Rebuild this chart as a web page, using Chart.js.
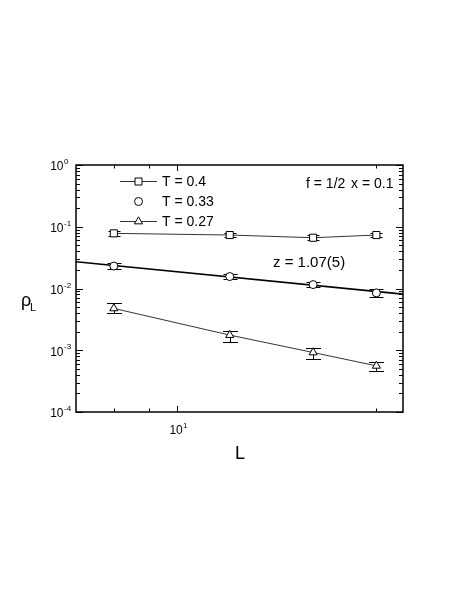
<!DOCTYPE html>
<html><head><meta charset="utf-8">
<script src="https://cdn.jsdelivr.net/npm/chart.js@4/dist/chart.umd.min.js"></script>
<style>html,body{margin:0;padding:0;background:#fff}canvas{display:block}</style>
</head><body>
<canvas id="c" width="463" height="606"></canvas>
<script>
// ---- data ----
const L = [6, 15.3, 30, 50];
const rhoT040 = [0.0782, 0.0734, 0.0664, 0.0734];
const loT040  = [0.0717, 0.0673, 0.0609, 0.0673];
const hiT040  = [0.0852, 0.0800, 0.0723, 0.0800];
const rhoT033 = [0.0231, 0.0156, 0.01157, 0.00849];
const loT033  = [0.0204, 0.01404, 0.01054, 0.00739];
const hiT033  = [0.0261, 0.0173, 0.0127, 0.00974];
const rhoT027 = [0.00476, 0.00176, 0.00092, 0.000559];
const loT027  = [0.00395, 0.00137, 0.000718, 0.000463];
const hiT027  = [0.00574, 0.00204, 0.00107, 0.000649];
const fitL   = [4.42, 62];
const fitRho = [0.0271, 0.0081];
const seriesLabels = ['T = 0.4', 'T = 0.33', 'T = 0.27'];
const xMajorTicks = [10];
const xMinorTicks = [6, 8, 50];
const xTickBase = ['10'];
const xTickExp = ['1'];
const yMajorTicks = [1, 0.1, 0.01, 0.001, 0.0001];
const yTickBase = ['10', '10', '10', '10', '10'];
const yTickExp = ['0', '-1', '-2', '-3', '-4'];
const xTitle = 'L';
const yTitle = 'ρ';
const yTitleSub = 'L';
const note1 = 'f = 1/2';
const note2 = 'x = 0.1';
const note3 = 'z = 1.07(5)';

const FONT = '"Liberation Sans", Arial, Helvetica, sans-serif';

function drawMarker(ctx, style, x, y) {
  ctx.save();
  ctx.fillStyle = '#fff'; ctx.strokeStyle = '#000'; ctx.lineWidth = 1;
  ctx.beginPath();
  if (style === 'rect') { ctx.rect(x - 3.5, y - 3.5, 7, 7); }
  else if (style === 'circle') { ctx.arc(x, y, 4, 0, Math.PI * 2); }
  else { const r = 4.7; ctx.moveTo(x, y - r); ctx.lineTo(x + r * 0.866, y + r * 0.5); ctx.lineTo(x - r * 0.866, y + r * 0.5); ctx.closePath(); }
  ctx.fill(); ctx.stroke();
  ctx.restore();
}

const decor = {
  id: 'decor',
  beforeDatasetsDraw(chart) {
    const ctx = chart.ctx, xs = chart.scales.x, ys = chart.scales.y;
    const sets = [[loT040, hiT040, 6], [loT033, hiT033, 7], [loT027, hiT027, 7.5]];
    ctx.save();
    ctx.strokeStyle = '#000'; ctx.lineWidth = 1;
    sets.forEach(([lo, hi, cw]) => {
      L.forEach((l, i) => {
        const px = Math.round(xs.getPixelForValue(l)) + 0.5;
        const yl = Math.round(ys.getPixelForValue(lo[i])) + 0.5;
        const yh = Math.round(ys.getPixelForValue(hi[i])) + 0.5;
        ctx.beginPath();
        ctx.moveTo(px, yl); ctx.lineTo(px, yh);
        ctx.moveTo(px - cw, yl); ctx.lineTo(px + cw, yl);
        ctx.moveTo(px - cw, yh); ctx.lineTo(px + cw, yh);
        ctx.stroke();
      });
    });
    ctx.restore();
  },
  afterDraw(chart) {
    const ctx = chart.ctx, xs = chart.scales.x, ys = chart.scales.y;
    const a = chart.chartArea;
    ctx.save();
    ctx.strokeStyle = '#000';
    // frame
    ctx.lineWidth = 1.5;
    ctx.strokeRect(a.left, a.top, a.right - a.left, a.bottom - a.top);
    // y ticks
    ctx.lineWidth = 1;
    ctx.beginPath();
    yMajorTicks.forEach(v => {
      const py = Math.round(ys.getPixelForValue(v)) + 0.5;
      ctx.moveTo(a.left, py); ctx.lineTo(a.left + 7, py);
      ctx.moveTo(a.right, py); ctx.lineTo(a.right - 7, py);
    });
    for (let e = -4; e < 0; e++) {
      for (let m = 2; m <= 9; m++) {
        const py = Math.round(ys.getPixelForValue(m * Math.pow(10, e))) + 0.5;
        ctx.moveTo(a.left, py); ctx.lineTo(a.left + 4, py);
        ctx.moveTo(a.right, py); ctx.lineTo(a.right - 4, py);
      }
    }
    // x ticks
    xMajorTicks.forEach(v => {
      const px = Math.round(xs.getPixelForValue(v)) + 0.5;
      ctx.moveTo(px, a.bottom); ctx.lineTo(px, a.bottom - 6);
      ctx.moveTo(px, a.top); ctx.lineTo(px, a.top + 6);
    });
    xMinorTicks.forEach(v => {
      const px = Math.round(xs.getPixelForValue(v)) + 0.5;
      ctx.moveTo(px, a.bottom); ctx.lineTo(px, a.bottom - 3.5);
      ctx.moveTo(px, a.top); ctx.lineTo(px, a.top + 3.5);
    });
    ctx.stroke();

    ctx.fillStyle = '#000';
    // y tick labels
    yMajorTicks.forEach((v, i) => {
      const py = ys.getPixelForValue(v);
      ctx.font = '12px ' + FONT;
      ctx.textAlign = 'right'; ctx.textBaseline = 'middle';
      ctx.fillText(yTickBase[i], 63.5, py + 2);
      ctx.font = '8px ' + FONT;
      ctx.textAlign = 'left';
      ctx.fillText(yTickExp[i], 64, py - 3);
    });
    // x tick labels
    xMajorTicks.forEach((v, i) => {
      const px = xs.getPixelForValue(v);
      ctx.font = '12px ' + FONT;
      ctx.textAlign = 'center'; ctx.textBaseline = 'middle';
      ctx.fillText(xTickBase[i], px - 1, a.bottom + 19);
      ctx.font = '8px ' + FONT;
      ctx.textAlign = 'left';
      ctx.fillText(xTickExp[i], px + 6, a.bottom + 14);
    });
    // axis titles
    ctx.font = '18px ' + FONT;
    ctx.textAlign = 'center'; ctx.textBaseline = 'middle';
    ctx.fillText(xTitle, 240, 454);
    ctx.fillText(yTitle, 26, 301);
    ctx.font = '11px ' + FONT;
    ctx.fillText(yTitleSub, 33, 308);

    // legend
    const rows = [181, 201, 221];
    const styles = ['rect', 'circle', 'triangle'];
    ctx.lineWidth = 1;
    rows.forEach((ry, i) => {
      if (i !== 1) {
        ctx.strokeStyle = '#333';
        ctx.beginPath(); ctx.moveTo(120, ry + 0.5); ctx.lineTo(157, ry + 0.5); ctx.stroke();
      }
      drawMarker(ctx, styles[i], 138.5, ry + 0.5);
      ctx.fillStyle = '#000';
      ctx.font = '14px ' + FONT;
      ctx.textAlign = 'left'; ctx.textBaseline = 'middle';
      ctx.fillText(seriesLabels[i], 162, ry + 1);
    });
    // annotations
    ctx.font = '14px ' + FONT;
    ctx.textAlign = 'left';
    ctx.fillText(note1, 306, 184);
    ctx.fillText(note2, 351, 184);
    ctx.font = '15px ' + FONT;
    ctx.fillText(note3, 273, 263);
    ctx.restore();
  }
};

const pts = (xs, ys) => xs.map((x, i) => ({ x: x, y: ys[i] }));

new Chart(document.getElementById('c'), {
  type: 'scatter',
  data: {
    datasets: [
      { label: 'fit', data: pts(fitL, fitRho), showLine: true, borderColor: '#000', borderWidth: 1.6, pointRadius: 0, order: 4 },
      { label: seriesLabels[0], data: pts(L, rhoT040), showLine: true, borderColor: '#333', borderWidth: 1,
        pointStyle: 'rect', pointRadius: 5, pointBorderColor: '#000', pointBackgroundColor: '#fff', pointBorderWidth: 1, order: 1 },
      { label: seriesLabels[1], data: pts(L, rhoT033), showLine: false,
        pointStyle: 'circle', pointRadius: 4, pointBorderColor: '#000', pointBackgroundColor: '#fff', pointBorderWidth: 1, order: 2 },
      { label: seriesLabels[2], data: pts(L, rhoT027), showLine: true, borderColor: '#333', borderWidth: 1,
        pointStyle: 'triangle', pointRadius: 4.7, pointBorderColor: '#000', pointBackgroundColor: '#fff', pointBorderWidth: 1, order: 3 }
    ]
  },
  options: {
    responsive: false,
    animation: false,
    devicePixelRatio: 1,
    layout: { padding: { left: 76, top: 165, right: 60, bottom: 194 } },
    plugins: { legend: { display: false }, tooltip: { enabled: false } },
    scales: {
      x: {
        type: 'logarithmic', min: 4.42, max: 62,
        ticks: { display: false }, grid: { display: false }, border: { display: false },
        afterFit(s) { s.height = 0; }
      },
      y: {
        type: 'logarithmic', min: 0.0001, max: 1,
        ticks: { display: false }, grid: { display: false }, border: { display: false },
        afterFit(s) { s.width = 0; }
      }
    }
  },
  plugins: [decor]
});
</script>
</body></html>
